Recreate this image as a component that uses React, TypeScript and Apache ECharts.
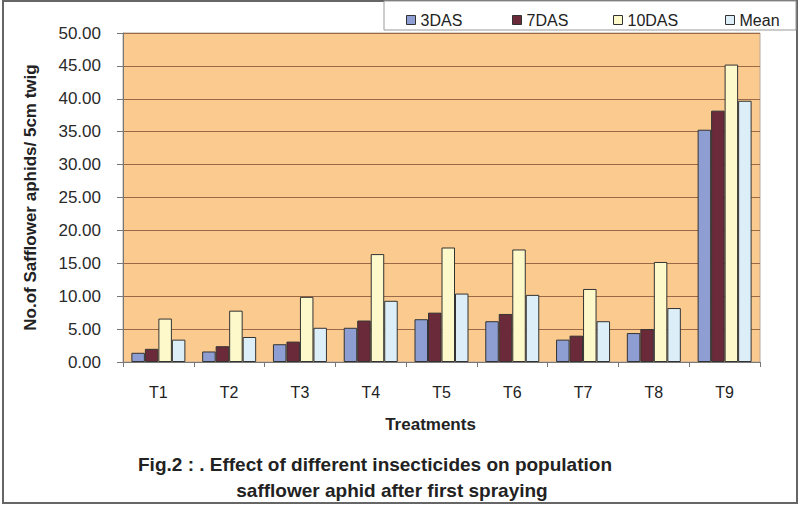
import React, { useEffect, useRef } from "react";
import * as echarts from "echarts";

const treatments = ["T1", "T2", "T3", "T4", "T5", "T6", "T7", "T8", "T9"];
const das3 = [1.4, 1.6, 2.7, 5.2, 6.5, 6.2, 3.4, 4.4, 35.3];
const das7 = [2.0, 2.4, 3.1, 6.3, 7.5, 7.3, 4.0, 5.0, 38.2];
const das10 = [6.6, 7.8, 9.9, 16.4, 17.4, 17.1, 11.1, 15.2, 45.2];
const mean = [3.4, 3.8, 5.2, 9.3, 10.4, 10.2, 6.2, 8.2, 39.7];
const seriesNames = ["3DAS", "7DAS", "10DAS", "Mean"];
const seriesColors = ["#8E9ED2", "#6A2A3A", "#FDF9CB", "#DCEFF9"];
const legendLefts = [401, 507, 608, 720];

const FONT = "Liberation Sans, Arial, sans-serif";

export default function App() {
  const ref = useRef<HTMLDivElement>(null);

  useEffect(() => {
    document.body.style.margin = "0";
    const chart = echarts.init(ref.current!, undefined, { renderer: "svg" });
    const values = [das3, das7, das10, mean];
    chart.setOption({
      animation: false,
      backgroundColor: "#ffffff",
      grid: { left: 123, right: 40, top: 33, bottom: 144, show: true, backgroundColor: "#FBCA8F", borderColor: "#b8a898", borderWidth: 1 },
      legend: seriesNames.map((name, i) => ({
        data: [name],
        top: 7,
        left: legendLefts[i],
        itemWidth: 9,
        itemHeight: 9,
        itemGap: 6,
        icon: "rect",
        textStyle: { fontFamily: FONT, fontSize: 16, color: "#222" },
        itemStyle: { borderColor: "#333", borderWidth: 1 },
      })),
      xAxis: {
        type: "category",
        data: treatments,
        axisLine: { lineStyle: { color: "#777", width: 1 } },
        axisTick: { show: true, length: 5, lineStyle: { color: "#777" } },
        axisLabel: { fontFamily: FONT, fontSize: 16, color: "#222", margin: 22 },
        name: "Treatments",
        nameLocation: "middle",
        nameGap: 54,
        nameTextStyle: { fontFamily: FONT, fontSize: 17, fontWeight: "bold", color: "#222", padding: [0, 22, 0, 0] },
      },
      yAxis: {
        type: "value",
        min: 0,
        max: 50,
        interval: 5,
        axisLine: { show: true, lineStyle: { color: "#777" } },
        axisTick: { show: true, length: 6, lineStyle: { color: "#777" } },
        splitLine: { lineStyle: { color: "#9a6a48", width: 1 } },
        axisLabel: { formatter: (v: number) => v.toFixed(2), fontFamily: FONT, fontSize: 17, color: "#2a2a2a", margin: 22 },
        name: "No.of Safflower aphids/ 5cm twig",
        nameLocation: "middle",
        nameGap: 84,
        nameTextStyle: { fontFamily: FONT, fontSize: 17, fontWeight: "bold", color: "#222" },
      },
      series: seriesNames.map((name, i) => ({
        name,
        type: "bar",
        data: values[i],
        barWidth: 13.5,
        barGap: "0%",
        itemStyle: { color: seriesColors[i], borderColor: "#333", borderWidth: 1 },
      })),
      graphic: [
        { type: "rect", shape: { x: 3, y: 1, width: 794, height: 502 }, style: { fill: "none", stroke: "#666", lineWidth: 2 }, z: -1 },
        { type: "rect", shape: { x: 384, y: 1, width: 412, height: 29 }, style: { fill: "#fff", stroke: "#999", lineWidth: 1 }, z: -1 },
        {
          type: "text",
          x: 375,
          y: 464,
          style: { text: "Fig.2 : . Effect of different insecticides on population", fontFamily: FONT, fontSize: 19, fontWeight: "bold", fill: "#222", align: "center", verticalAlign: "middle" },
        },
        {
          type: "text",
          x: 392,
          y: 490,
          style: { text: "safflower aphid after first spraying", fontFamily: FONT, fontSize: 19, fontWeight: "bold", fill: "#222", align: "center", verticalAlign: "middle" },
        },
      ],
    });
    return () => chart.dispose();
  }, []);

  return <div ref={ref} style={{ width: 800, height: 506 }} />;
}
